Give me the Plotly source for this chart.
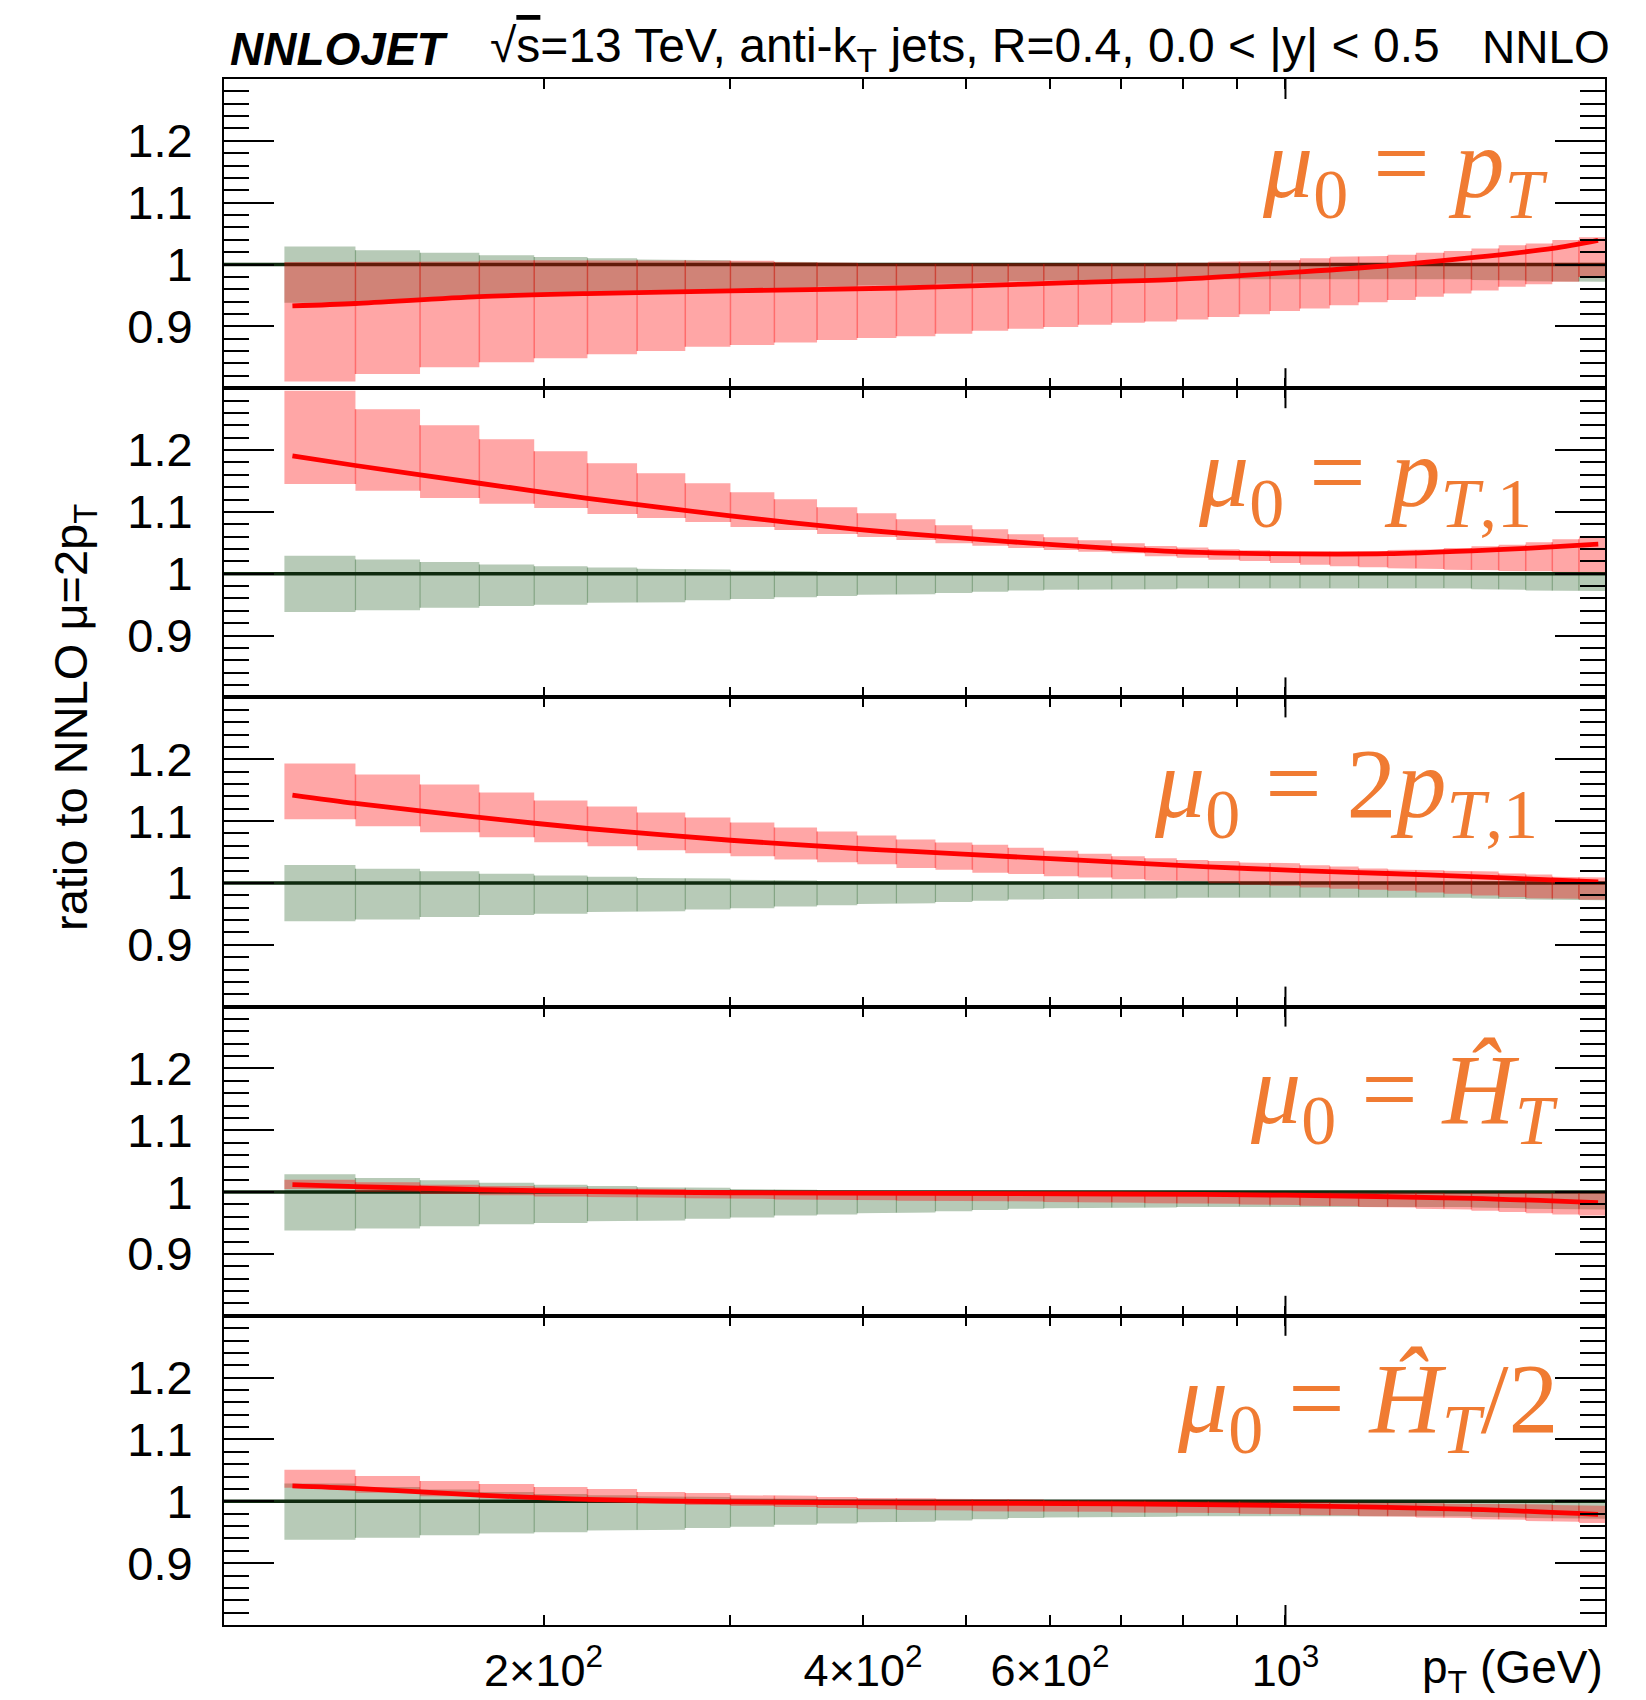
import math
import plotly.graph_objects as go
from plotly.subplots import make_subplots

# ---------------- data ----------------
PT_EDGES = [114, 133, 153, 174, 196, 220, 245, 272, 300, 330, 362, 395, 430, 468, 507, 548,
            592, 638, 686, 737, 790, 846, 905, 967, 1032, 1101, 1172, 1248, 1327, 1410, 1497,
            1588, 1684, 1784, 1890, 2000]

# reference NNLO mu=2pT scale band (ratio to itself)
REF_UP = [1.029, 1.023, 1.019, 1.015, 1.012, 1.010, 1.008, 1.007, 1.005, 1.004, 1.003, 1.002,
          1.001, 1.001, 1.001, 1.001, 1.001, 1.001, 1.001, 1.001, 1.001, 1.001, 1.001, 1.001,
          1.001, 1.001, 1.001, 1.001, 1.001, 1.001, 1.001, 1.001, 1.001, 1.001, 1.001]
REF_DN = [0.938, 0.941, 0.945, 0.948, 0.950, 0.953, 0.954, 0.957, 0.959, 0.962, 0.964, 0.966,
          0.967, 0.969, 0.971, 0.973, 0.974, 0.974, 0.975, 0.975, 0.976, 0.977, 0.977, 0.977,
          0.977, 0.977, 0.977, 0.977, 0.977, 0.976, 0.975, 0.974, 0.973, 0.973, 0.972]
REF_CENTRAL = 1.0

# mu0 = pT
PT_UP = [1.004, 1.004, 1.005, 1.007, 1.007, 1.007, 1.007, 1.007, 1.006, 1.004, 1.003, 1.002,
         1.001, 1.001, 1.001, 1.001, 1.001, 1.001, 1.001, 1.002, 1.003, 1.0045, 1.0055, 1.007,
         1.010, 1.0126, 1.0136, 1.016, 1.019, 1.022, 1.026, 1.031, 1.034, 1.0395, 1.044]
PT_DN = [0.811, 0.823, 0.834, 0.842, 0.8485, 0.855, 0.860, 0.867, 0.870, 0.874, 0.878, 0.881,
         0.884, 0.888, 0.893, 0.896, 0.899, 0.9025, 0.906, 0.908, 0.911, 0.915, 0.9195, 0.925,
         0.929, 0.934, 0.939, 0.9425, 0.948, 0.953, 0.958, 0.964, 0.968, 0.972, 0.980]
PT_CURVE_X = [116, 133, 174, 220, 300, 433, 507, 638, 790, 906, 1032, 1248, 1498, 1786, 1970]
PT_CURVE_Y = [0.933, 0.937, 0.948, 0.953, 0.9575, 0.962, 0.9656, 0.971, 0.976, 0.982, 0.988,
              0.998, 1.011, 1.026, 1.039]

# mu0 = pT,1
PT1_UP = [1.296, 1.266, 1.240, 1.2175, 1.198, 1.1786, 1.1625, 1.1463, 1.1317, 1.1204, 1.1074,
          1.0977, 1.088, 1.0783, 1.0718, 1.0638, 1.0589, 1.054, 1.0492, 1.0449, 1.0422, 1.0395,
          1.0378, 1.0357, 1.0367, 1.0357, 1.0367, 1.0384, 1.0395, 1.0416, 1.0443, 1.047, 1.0508,
          1.0556, 1.060]
PT1_DN = [1.145, 1.134, 1.1225, 1.113, 1.1064, 1.0967, 1.090, 1.0837, 1.0756, 1.0708, 1.0643,
          1.0594, 1.0546, 1.0492, 1.0454, 1.0416, 1.0384, 1.0357, 1.033, 1.0282, 1.026, 1.0227,
          1.0206, 1.0174, 1.0147, 1.012, 1.0104, 1.0087, 1.0076, 1.0066, 1.0055, 1.0044, 1.0038,
          1.0027, 1.0022]
PT1_CURVE_X = [116, 133, 174, 220, 300, 395, 445, 548, 686, 846, 1032, 1248, 1498, 1687, 1971]
PT1_CURVE_Y = [1.1905, 1.175, 1.1463, 1.122, 1.0934, 1.0718, 1.064, 1.052, 1.041, 1.034, 1.032,
               1.0324, 1.037, 1.041, 1.048]

# mu0 = 2 pT,1
TWOPT1_UP = [1.1932, 1.1754, 1.1592, 1.1463, 1.1333, 1.1236, 1.1139, 1.1058, 1.0977, 1.0896,
             1.0832, 1.0767, 1.0702, 1.0654, 1.0616, 1.057, 1.052, 1.047, 1.043, 1.040, 1.037,
             1.0355, 1.033, 1.0319, 1.0287, 1.0265, 1.0233, 1.0217, 1.0206, 1.0195, 1.0184,
             1.0152, 1.0136, 1.0098, 1.0087]
TWOPT1_DN = [1.1031, 1.0918, 1.0821, 1.074, 1.0659, 1.0594, 1.053, 1.0481, 1.0433, 1.0379,
             1.0335, 1.0303, 1.024, 1.0211, 1.0165, 1.0145, 1.0109, 1.0087, 1.006, 1.0038,
             1.0027, 0.9996, 0.997, 0.9953, 0.9926, 0.9904, 0.9888, 0.9872, 0.9845, 0.9823,
             0.9796, 0.9774, 0.9753, 0.9742, 0.9726]
TWOPT1_CURVE_X = [116, 133, 174, 220, 300, 395, 445, 548, 686, 846, 1032, 1248, 1498, 1687, 1971]
TWOPT1_CURVE_Y = [1.142, 1.1285, 1.106, 1.088, 1.069, 1.0557, 1.051, 1.0427, 1.034, 1.026, 1.020,
                  1.0152, 1.0103, 1.0066, 1.0017]

# mu0 = HT
HT_UP = [1.020, 1.016, 1.012, 1.010, 1.008, 1.006, 1.005, 1.004, 1.003, 1.002, 1.002, 1.001,
         1.001, 1.001, 1.000, 1.000, 1.000, 1.000, 1.000, 1.000, 1.000, 1.000, 1.000, 0.999,
         0.999, 0.999, 0.999, 0.999, 0.999, 0.998, 0.998, 0.998, 0.998, 0.998, 0.998]
HT_DN = [1.005, 1.000, 0.997, 0.995, 0.993, 0.992, 0.991, 0.990, 0.989, 0.988, 0.987, 0.987,
         0.986, 0.986, 0.985, 0.985, 0.984, 0.984, 0.983, 0.982, 0.982, 0.981, 0.980, 0.979,
         0.978, 0.977, 0.976, 0.975, 0.973, 0.972, 0.970, 0.968, 0.966, 0.964, 0.962]
HT_CURVE_X = [116, 133, 174, 220, 300, 450, 700, 1000, 1500, 1970]
HT_CURVE_Y = [1.012, 1.009, 1.004, 1.001, 0.999, 0.998, 0.997, 0.995, 0.990, 0.983]

# mu0 = HT/2
HT2_UP = [1.051, 1.041, 1.033, 1.028, 1.023, 1.020, 1.015, 1.0136, 1.010, 1.009, 1.007, 1.0055,
          1.005, 1.004, 1.003, 1.003, 1.002, 1.002, 1.001, 1.001, 1.000, 1.000, 1.000, 0.999,
          0.999, 0.998, 0.998, 0.997, 0.997, 0.996, 0.996, 0.995, 0.995, 0.994, 0.993]
HT2_DN = [1.022, 1.014, 1.008, 1.005, 1.002, 0.998, 0.996, 0.994, 0.9925, 0.991, 0.989, 0.987,
          0.986, 0.985, 0.984, 0.984, 0.983, 0.983, 0.982, 0.982, 0.981, 0.981, 0.980, 0.979,
          0.978, 0.977, 0.976, 0.975, 0.974, 0.973, 0.971, 0.970, 0.968, 0.967, 0.965]
HT2_CURVE_X = [116, 133, 174, 220, 300, 450, 700, 1000, 1500, 1970]
HT2_CURVE_Y = [1.025, 1.021, 1.010, 1.003, 0.999, 0.997, 0.996, 0.993, 0.987, 0.979]

PANEL_LABELS = [
    "<i>μ</i><sub>0</sub> = <i>p</i><sub><i>T</i></sub>",
    "<i>μ</i><sub>0</sub> = <i>p</i><sub><i>T</i>,1</sub>",
    "<i>μ</i><sub>0</sub> = 2<i>p</i><sub><i>T</i>,1</sub>",
    "<i>μ</i><sub>0</sub> = <i>Ĥ</i><sub><i>T</i></sub>",
    "<i>μ</i><sub>0</sub> = <i>Ĥ</i><sub><i>T</i></sub>/2",
]

X_RANGE = [100, 2000]
Y_RANGE = [0.8, 1.3]
X_TICKS = [200, 300, 400, 500, 600, 700, 800, 900, 1000]
X_TICKTEXT = ["2×10<sup>2</sup>", "", "4×10<sup>2</sup>", "", "6×10<sup>2</sup>", "", "", "",
              "10<sup>3</sup>"]
X_LONG_TICK = [1000]
Y_TICKS = [0.9, 1.0, 1.1, 1.2]
Y_TICKTEXT = ["0.9", "1", "1.1", "1.2"]

# ---------------- layout constants ----------------
W, H = 1646, 1700
L, R, T, B = 224, 41, 79, 75
PW = W - L - R
PH = H - T - B
PANEL_H = PH / 5

GREEN_FILL = "#b7cab7"
GREEN_EDGE = "rgba(70,120,70,0.45)"
RED_FILL = "rgba(255,0,0,0.35)"
RED_EDGE = "rgba(255,0,0,0.35)"
REF_LINE = "#0f2a0f"
ORANGE = "#f07b32"
SANS = "Liberation Sans, Arial, sans-serif"
SERIF = "Liberation Serif, Times New Roman, serif"

panels = [
    (PT_UP, PT_DN, PT_CURVE_X, PT_CURVE_Y),
    (PT1_UP, PT1_DN, PT1_CURVE_X, PT1_CURVE_Y),
    (TWOPT1_UP, TWOPT1_DN, TWOPT1_CURVE_X, TWOPT1_CURVE_Y),
    (HT_UP, HT_DN, HT_CURVE_X, HT_CURVE_Y),
    (HT2_UP, HT2_DN, HT2_CURVE_X, HT2_CURVE_Y),
]


def step_polygon(edges, up, dn):
    xs, ys = [], []
    for i in range(len(up)):
        xs += [edges[i], edges[i + 1]]
        ys += [up[i], up[i]]
    for i in reversed(range(len(dn))):
        xs += [edges[i + 1], edges[i]]
        ys += [dn[i], dn[i]]
    xs.append(xs[0])
    ys.append(ys[0])
    return xs, ys


def edge_segments(edges, up, dn):
    xs, ys = [], []
    for i in range(len(up) - 1):
        lo = max(dn[i], dn[i + 1])
        hi = min(up[i], up[i + 1])
        if hi > lo:
            xs += [edges[i + 1], edges[i + 1], None]
            ys += [lo, hi, None]
    return xs, ys


fig = make_subplots(rows=5, cols=1, shared_xaxes=True, vertical_spacing=0)

for r, (up, dn, cx, cy) in enumerate(panels, start=1):
    gx, gy = step_polygon(PT_EDGES, REF_UP, REF_DN)
    fig.add_trace(go.Scatter(x=gx, y=gy, mode="lines", fill="toself", fillcolor=GREEN_FILL,
                             line=dict(width=0), hoverinfo="skip", showlegend=False), row=r, col=1)
    ex, ey = edge_segments(PT_EDGES, REF_UP, REF_DN)
    fig.add_trace(go.Scatter(x=ex, y=ey, mode="lines", line=dict(color=GREEN_EDGE, width=1.2),
                             hoverinfo="skip", showlegend=False), row=r, col=1)
    fig.add_trace(go.Scatter(x=X_RANGE, y=[REF_CENTRAL, REF_CENTRAL], mode="lines",
                             line=dict(color=REF_LINE, width=3.5), hoverinfo="skip",
                             showlegend=False), row=r, col=1)
    rx, ry = step_polygon(PT_EDGES, up, dn)
    fig.add_trace(go.Scatter(x=rx, y=ry, mode="lines", fill="toself", fillcolor=RED_FILL,
                             line=dict(width=0), hoverinfo="skip", showlegend=False), row=r, col=1)
    ex, ey = edge_segments(PT_EDGES, up, dn)
    fig.add_trace(go.Scatter(x=ex, y=ey, mode="lines", line=dict(color=RED_EDGE, width=1.5),
                             hoverinfo="skip", showlegend=False), row=r, col=1)
    fig.add_trace(go.Scatter(x=cx, y=cy, mode="lines", line=dict(color="#ff0000", width=4.8,
                             shape="spline", smoothing=0.8), hoverinfo="skip",
                             showlegend=False), row=r, col=1)

axis_common = dict(showline=True, linecolor="black", linewidth=2, mirror="allticks",
                   ticks="inside", tickcolor="black", tickwidth=2, showgrid=False,
                   zeroline=False, automargin=False)

for r in range(1, 6):
    xa = "xaxis" if r == 1 else f"xaxis{r}"
    ya = "yaxis" if r == 1 else f"yaxis{r}"
    fig.layout[xa].update(type="log", range=[math.log10(X_RANGE[0]), math.log10(X_RANGE[1])],
                          tickmode="array", tickvals=X_TICKS, ticktext=X_TICKTEXT, ticklen=10,
                          tickfont=dict(family=SANS, size=45, color="black"),
                          ticklabelstandoff=5, **axis_common)
    fig.layout[ya].update(range=Y_RANGE, tickmode="array", tickvals=Y_TICKS, ticktext=Y_TICKTEXT,
                          ticklen=50, tickfont=dict(family=SANS, size=47, color="black"),
                          ticklabelstandoff=20,
                          minor=dict(tickmode="linear", tick0=0.8, dtick=0.02, ticklen=25,
                                     tickwidth=2, tickcolor="black", ticks="inside",
                                     showgrid=False),
                          **axis_common)
    xref = "x" if r == 1 else f"x{r}"
    ydom = ("y" if r == 1 else f"y{r}") + " domain"
    for xv in X_LONG_TICK:
        for (y0, y1) in [(0, 20 / PANEL_H), (1 - 20 / PANEL_H, 1)]:
            fig.add_shape(type="line", xref=xref, yref=ydom, x0=xv, x1=xv, y0=y0, y1=y1,
                          line=dict(color="black", width=2))

# panel labels (right edge px, "=" centre px)
LABEL_POS = [(1551, 171), (1534, 480), (1540, 791), (1561, 1096), (1561, 1405)]
for r, (txt, (px, py)) in enumerate(zip(PANEL_LABELS, LABEL_POS), start=1):
    top = T + (r - 1) * PANEL_H
    ydom = ("y" if r == 1 else f"y{r}") + " domain"
    fig.add_annotation(text=txt, xref="paper", yref=ydom, x=(px - L) / PW,
                       y=1 - (py - top) / PANEL_H, xanchor="right", yanchor="middle",
                       showarrow=False, font=dict(family=SERIF, size=100, color=ORANGE))


def px2paper_x(px):
    return (px - L) / PW


def px2paper_y(py):
    return (H - B - py) / PH


fig.add_annotation(text="<b><i>NNLOJET</i></b>", xref="paper", yref="paper",
                   x=px2paper_x(228), y=px2paper_y(49), xanchor="left", yanchor="middle",
                   showarrow=False, font=dict(family=SANS, size=46, color="black"))
fig.add_annotation(text="√<span style='text-decoration:overline'>s</span>=13 TeV, anti-k<sub>T</sub> jets, R=0.4, 0.0 &lt; |y| &lt; 0.5",
                   xref="paper", yref="paper", x=px2paper_x(488), y=px2paper_y(49),
                   xanchor="left", yanchor="middle", showarrow=False,
                   font=dict(family=SANS, size=48, color="black"))
fig.add_annotation(text="NNLO", xref="paper", yref="paper", x=px2paper_x(1612),
                   y=px2paper_y(47), xanchor="right", yanchor="middle", showarrow=False,
                   font=dict(family=SANS, size=46, color="black"))
fig.add_annotation(text="ratio to NNLO μ=2p<sub>T</sub>", xref="paper", yref="paper",
                   x=px2paper_x(74), y=px2paper_y(718), xanchor="center", yanchor="middle",
                   textangle=-90, showarrow=False, font=dict(family=SANS, size=47, color="black"))
fig.add_annotation(text="p<sub>T</sub> (GeV)", xref="paper", yref="paper", x=1.0,
                   y=px2paper_y(1670), xanchor="right", yanchor="middle", showarrow=False,
                   font=dict(family=SANS, size=46, color="black"))

fig.update_layout(width=W, height=H, margin=dict(l=L, r=R, t=T, b=B, autoexpand=False),
                  paper_bgcolor="white", plot_bgcolor="white", showlegend=False)

fig.write_html("out.html")
